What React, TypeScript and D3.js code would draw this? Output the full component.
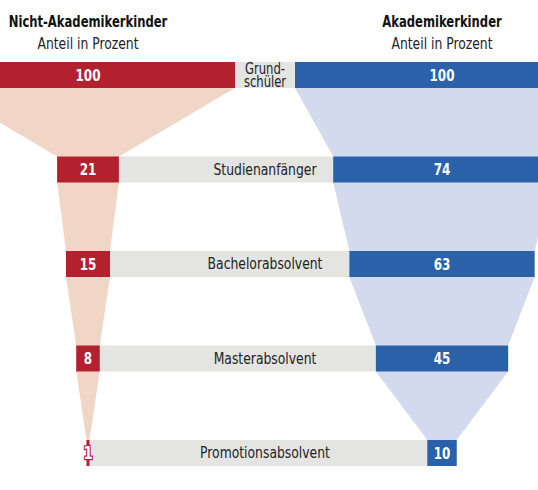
import React from "react";
import * as d3 from "d3";

// stages of education, top to bottom
const stages = [
  ["Grund-", "schüler"],
  ["Studienanfänger"],
  ["Bachelorabsolvent"],
  ["Masterabsolvent"],
  ["Promotionsabsolvent"],
];
// share in percent
const nichtAkademiker = [100, 21, 15, 8, 1];
const akademiker = [100, 74, 63, 45, 10];

const groups = [
  { title: "Nicht-Akademikerkinder", values: nichtAkademiker, center: 88, bar: "#b3212f", funnel: "#f1d6c8" },
  { title: "Akademikerkinder", values: akademiker, center: 442, bar: "#2b61a8", funnel: "#d3daee" },
];

const font = "'DejaVu Sans Condensed', 'DejaVu Sans', sans-serif";
const squeeze = 0.86; // the original uses a condensed face

// text squeezed horizontally around its anchor
const Label = ({ x, y, children, ...rest }: any) => (
  <g transform={`translate(${x},${y}) scale(${squeeze},1)`}>
    <text x={0} y={0} textAnchor="middle" {...rest}>
      {children}
    </text>
  </g>
);

export default function App() {
  const width = 538,
    height = 490,
    barH = 26;

  // top of each row
  const y = d3
    .scaleLinear()
    .domain([0, stages.length - 1])
    .range([62, 440]);

  // bar width per percent
  const w = d3.scaleLinear().domain([0, 100]).range([0, 294]);

  const funnelArea = (center: number) =>
    d3
      .area<{ y: number; v: number }>()
      .y((d) => d.y)
      .x0((d) => center - w(d.v) / 2)
      .x1((d) => center + w(d.v) / 2);

  const left = groups[0],
    right = groups[1];

  return (
    <div style={{ position: "absolute", left: 0, top: 0 }}>
      <svg width={width} height={height} style={{ display: "block", background: "#fff" }} fontFamily={font}>
        {/* funnels */}
        {groups.map((g) => {
          const pts = g.values.flatMap((v, i) => [
            { y: y(i), v },
            { y: y(i) + barH, v },
          ]);
          return <path key={g.title} d={funnelArea(g.center)(pts) || ""} fill={g.funnel} />;
        })}

        {/* grey label bands */}
        {stages.map((s, i) => {
          const x0 = left.center + w(left.values[i]) / 2;
          const x1 = right.center - w(right.values[i]) / 2;
          return <rect key={"g" + i} x={x0} y={y(i)} width={x1 - x0} height={barH} fill="#e4e4e2" />;
        })}

        {/* bars */}
        {groups.map((g) =>
          g.values.map((v, i) => (
            <rect
              key={g.title + i}
              x={g.center - w(v) / 2}
              y={y(i)}
              width={w(v)}
              height={barH}
              fill={g.bar}
            />
          ))
        )}

        {/* values */}
        {groups.map((g) =>
          g.values.map((v, i) => (
            <Label
              key={g.title + "t" + i}
              x={g.center}
              y={y(i) + barH / 2 + 5.5}
              fontSize={w(v) < 10 ? 17 : 15.5}
              fontWeight="bold"
              fill="#fff"
              stroke={w(v) < 10 ? g.bar : "none"}
              strokeWidth={w(v) < 10 ? 2.5 : 0}
              style={{ paintOrder: "stroke" }}
            >
              {v}
            </Label>
          ))
        )}

        {/* stage labels */}
        {stages.map((s, i) => {
          const x0 = left.center + w(left.values[i]) / 2;
          const x1 = right.center - w(right.values[i]) / 2;
          const cx = s.length > 1 ? (x0 + x1) / 2 : 265;
          return s.map((line, j) => (
            <Label
              key={"s" + i + j}
              x={cx}
              y={y(i) + barH / 2 + 5 + (j - (s.length - 1) / 2) * 13}
              fontSize={s.length > 1 ? 15 : 16}
              fill="#222"
            >
              {line}
            </Label>
          ));
        })}

        {/* headers */}
        {groups.map((g) => (
          <g key={g.title + "h"}>
            <Label x={g.center} y={27} fontSize={15} fontWeight="bold" fill="#111">
              {g.title}
            </Label>
            <Label x={g.center} y={49} fontSize={16} fill="#222">
              Anteil in Prozent
            </Label>
          </g>
        ))}
      </svg>
    </div>
  );
}
